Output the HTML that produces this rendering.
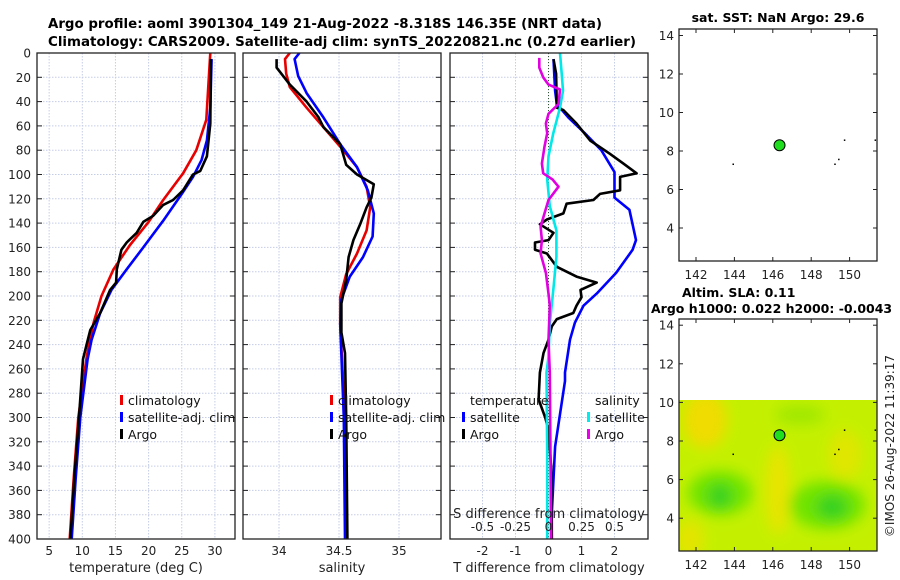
<!DOCTYPE html>
<html><head><meta charset="utf-8"><style>
html,body{margin:0;padding:0;background:#fff;width:900px;height:580px;overflow:hidden}
svg{display:block;font-family:"DejaVu Sans","Liberation Sans",sans-serif}
</style></head><body>
<svg id="chart" width="900" height="580" viewBox="0 0 900 580" xmlns="http://www.w3.org/2000/svg">
<defs>
<clipPath id="c1"><rect x="37" y="53" width="198" height="486"/></clipPath>
<clipPath id="c2"><rect x="243" y="53" width="198" height="486"/></clipPath>
<clipPath id="c3"><rect x="450" y="53" width="198" height="486"/></clipPath>
<clipPath id="cm2"><rect x="679" y="400" width="198" height="151"/></clipPath>
<filter id="blur" x="-50%" y="-50%" width="200%" height="200%"><feGaussianBlur stdDeviation="7"/></filter>
</defs>
<text x="48" y="28" font-size="13" font-weight="bold" textLength="554" lengthAdjust="spacingAndGlyphs">Argo profile: aoml 3901304_149 21-Aug-2022 -8.318S 146.35E (NRT data)</text>
<text x="48" y="46" font-size="13" font-weight="bold" textLength="588" lengthAdjust="spacingAndGlyphs">Climatology: CARS2009. Satellite-adj clim: synTS_20220821.nc (0.27d earlier)</text>
<g id="grids"></g>
<g id="series"></g>
<g id="frames"></g>
<g id="labels" font-size="12" fill="#222"></g>
<g id="legends" font-size="12.5" fill="#111">
<rect x="120" y="395" width="3" height="10" fill="#e00"/>
<text x="128" y="405">climatology</text>
<rect x="120" y="412" width="3" height="10" fill="#00f"/>
<text x="128" y="422">satellite-adj. clim</text>
<rect x="120" y="429" width="3" height="10" fill="#000"/>
<text x="128" y="439">Argo</text>
<rect x="330" y="395" width="3" height="10" fill="#e00"/>
<text x="338" y="405">climatology</text>
<rect x="330" y="412" width="3" height="10" fill="#00f"/>
<text x="338" y="422">satellite-adj. clim</text>
<rect x="330" y="429" width="3" height="10" fill="#000"/>
<text x="338" y="439">Argo</text>
<text x="470" y="405">temperature</text>
<rect x="462" y="412" width="3" height="10" fill="#00f"/>
<text x="470" y="422">satellite</text>
<rect x="462" y="429" width="3" height="10" fill="#000"/>
<text x="470" y="439">Argo</text>
<text x="595" y="405">salinity</text>
<rect x="587" y="412" width="3" height="10" fill="#0ee"/>
<text x="595" y="422">satellite</text>
<rect x="587" y="429" width="3" height="10" fill="#e0e"/>
<text x="595" y="439">Argo</text>
</g>
<!-- maps -->
<g id="map1">
<rect x="679" y="29" width="198" height="232" fill="#fff"/>
</g>
<g id="map2">
<g clip-path="url(#cm2)">
<rect x="679" y="400" width="198" height="151" fill="#c4f000"/>
<g filter="url(#blur)">
<ellipse cx="705" cy="420" rx="22" ry="28" fill="#f0dc00"/>
<ellipse cx="778" cy="490" rx="12" ry="45" fill="#e8e400"/>
<ellipse cx="845" cy="455" rx="16" ry="25" fill="#e0e600"/>
<ellipse cx="690" cy="540" rx="14" ry="20" fill="#e4e400"/>
<ellipse cx="800" cy="415" rx="25" ry="10" fill="#a0e800"/>
<ellipse cx="720" cy="493" rx="32" ry="22" fill="#70e400"/>
<ellipse cx="827" cy="505" rx="38" ry="24" fill="#70e400"/>
<ellipse cx="720" cy="496" rx="12" ry="12" fill="#30d020"/>
<ellipse cx="832" cy="507" rx="16" ry="12" fill="#30d020"/>
</g>
</g>
</g>
<g id="maplabels" font-size="12" fill="#222"></g>
<text x="778" y="22" font-size="12.5" font-weight="bold" text-anchor="middle">sat. SST: NaN Argo: 29.6</text>
<text x="682" y="297" font-size="12.5" font-weight="bold">Altim. SLA: 0.11</text>
<text x="651" y="313" font-size="12.5" font-weight="bold">Argo h1000: 0.022 h2000: -0.0043</text>
<text x="0" y="0" font-size="12" fill="#222" text-anchor="middle" transform="translate(894,446) rotate(-90)">©IMOS 26-Aug-2022 11:39:17</text>
</svg>
<script>
// ---- data ----
const depthTicks = [0,20,40,60,80,100,120,140,160,180,200,220,240,260,280,300,320,340,360,380,400];
const tempTicks = [5,10,15,20,25,30];
const salTicks = [34,34.5,35];
const salTickLabels = ["34","34.5","35"];
const tdiffTicks = [-2,-1,0,1,2];
const sdiffTicks = [-0.5,-0.25,0,0.25,0.5];
const sdiffTickLabels = ["-0.5","-0.25","0","0.25","0.5"];
const lonTicks = [142,144,146,148,150];
const latTicks = [4,6,8,10,12,14];

const climTDepth = [0,55,80,99,121,139,158,178,200,222,249,300,350,400];
const climT = [29.3,28.7,27.2,25.2,22.2,20.0,17.2,14.7,12.9,11.7,10.7,9.4,8.7,8.1];
const satTDepth = [5,45,72,88,102,116,138,160,178,195,214,236,252,300,350,400];
const satT = [29.5,29.3,28.8,28.0,26.7,25.0,22.2,19.2,16.7,14.4,12.7,11.4,10.8,9.7,9.0,8.4];
const argoTDepth = [5,58,85,97,100,113,121,125,134,139,148,156,162,178,189,195,214,228,239,252,300,350,400];
const argoT = [29.4,29.3,28.8,27.8,26.7,25.2,23.7,22.2,20.7,19.2,18.2,16.7,15.9,15.2,15.1,14.2,12.7,11.2,10.7,10.1,9.5,8.8,8.2];

const climSDepth = [0,5,17,28,45,61,77,94,110,127,146,165,182,201,223,300,400];
const climS = [34.09,34.05,34.06,34.09,34.23,34.37,34.51,34.65,34.73,34.76,34.73,34.65,34.56,34.51,34.51,34.55,34.56];
const satSDepth = [0,5,19,33,53,75,94,113,132,151,168,184,203,223,300,400];
const satS = [34.17,34.13,34.16,34.23,34.37,34.51,34.65,34.74,34.79,34.78,34.70,34.59,34.52,34.51,34.54,34.55];
const argoSDepth = [5,12,26,40,53,61,75,92,100,108,119,127,140,154,168,187,206,230,247,300,400];
const argoS = [33.98,33.98,34.09,34.23,34.33,34.37,34.51,34.56,34.65,34.79,34.77,34.73,34.68,34.62,34.58,34.56,34.52,34.52,34.55,34.56,34.57];

const argoTdDepth = [5,17,45,47,58,72,83,91,99,102,113,116,121,124,132,137,141,148,154,156,162,165,176,184,189,195,201,208,214,219,225,236,247,263,285,300,310,340,400];
const argoTd = [0.15,0.23,0.25,0.45,0.85,1.26,1.86,2.27,2.67,2.17,2.17,1.56,1.36,0.55,0.45,-0.05,-0.26,0.15,0.0,-0.41,-0.41,-0.05,0.25,0.85,1.46,0.97,1.0,0.85,0.75,0.25,0.1,0.0,-0.15,-0.26,-0.3,-0.1,0.0,0.08,0.1];
const satTdDepth = [5,31,42,53,66,80,98,119,129,154,162,181,198,208,222,236,263,270,324,379,400];
const satTd = [0.15,0.2,0.25,0.6,1.1,1.6,2.0,2.0,2.45,2.65,2.55,2.05,1.46,1.06,0.8,0.65,0.5,0.5,0.2,0.1,0.1];
const satSdDepth = [0,17,31,45,66,85,104,126,146,168,195,223,250,263,330,400];
const satSd = [0.087,0.1,0.11,0.087,0.036,0.0,-0.01,0.01,0.06,0.06,0.036,0.01,0.0,-0.015,-0.01,-0.01];
const argoSdDepth = [4,12,20,26,30,42,50,58,66,77,91,99,104,110,121,132,143,154,165,181,198,208,236,263,330,400];
const argoSd = [-0.07,-0.07,-0.04,0.0,0.087,0.076,0.0,-0.02,-0.01,-0.03,-0.05,-0.04,0.03,0.076,0.0,-0.03,-0.06,-0.05,-0.06,-0.02,0.0,0.01,0.0,0.01,0.015,0.02];

const argoLon = [146.35];
const argoLat = [8.3];

// ---- scales ----
const NS = "http://www.w3.org/2000/svg";
const yD = d => 53 + d * 1.215;
const xT = v => 16 + v * 6.63;
const xS = v => 279 + (v - 34) * 120;
const xTd = v => 548.5 + v * 33;
const xSd = v => 548.5 + v * 132;
const mLon = v => 696 + (v - 142) * 19.2;
const m1Lat = v => 151 - (v - 8) * 19.25;
const m2Lat = v => 441 - (v - 8) * 19.3;

function el(tag, attrs, parent) {
  const e = document.createElementNS(NS, tag);
  for (const k in attrs) e.setAttribute(k, attrs[k]);
  parent.appendChild(e);
  return e;
}
const grids = document.getElementById('grids');
const series = document.getElementById('series');
const frames = document.getElementById('frames');
const labels = document.getElementById('labels');
const maplabels = document.getElementById('maplabels');

const panels = [
  {x0:37, ticks:tempTicks, tl:tempTicks.map(String), f:xT, title:"temperature (deg C)", name:"temperature"},
  {x0:243, ticks:salTicks, tl:salTickLabels, f:xS, title:"salinity", name:"salinity"},
  {x0:450, ticks:tdiffTicks, tl:tdiffTicks.map(String), f:xTd, title:"T difference from climatology", name:"difference"}
];
panels.forEach((p, i) => {
  depthTicks.forEach(d => {
    const g = el('line', {x1:p.x0, x2:p.x0+198, y1:yD(d), y2:yD(d), stroke:'#c5cde6', 'stroke-width':1, 'stroke-dasharray':'1.5,1.5'}, grids);
    
    
    const t1 = el('line', {x1:p.x0, x2:p.x0+5, y1:yD(d), y2:yD(d), stroke:'#222'}, frames);
    
    
    const t2 = el('line', {x1:p.x0+193, x2:p.x0+198, y1:yD(d), y2:yD(d), stroke:'#222'}, frames);
    
    
    if (i === 0) {
      const tx = el('text', {x:31, y:yD(d)+4.5, 'text-anchor':'end'}, labels);
      tx.textContent = d;
      
      
    }
  });
  p.ticks.forEach((v, j) => {
    const g = el('line', {x1:p.f(v), x2:p.f(v), y1:53, y2:539, stroke:'#c5cde6', 'stroke-width':1, 'stroke-dasharray':'1.5,1.5'}, grids);
    
    
    const tx = el('text', {x:p.f(v), y:555, 'text-anchor':'middle'}, labels);
    tx.textContent = p.tl[j];
    
    
  });
  const fr = el('rect', {x:p.x0, y:53, width:198, height:486, fill:'none', stroke:'#222', 'stroke-width':1.3}, frames);
  
  
  const at = el('text', {x:p.x0+99, y:572, 'text-anchor':'middle', 'font-size':13}, labels);
  at.textContent = p.title;
  
  
});

// zero line in diff panel
const zl = el('line', {x1:xTd(0), x2:xTd(0), y1:53, y2:539, stroke:'#335533', 'stroke-dasharray':'1,2'}, grids);



// S diff axis labels (inside panel)
sdiffTicks.forEach((v, j) => {
  const tx = el('text', {x:xSd(v), y:531, 'text-anchor':'middle'}, labels);
  tx.textContent = sdiffTickLabels[j];
  
  
});
const st = el('text', {x:549, y:518, 'text-anchor':'middle', 'font-size':13}, labels);
st.textContent = 'S difference from climatology';



function line(depths, vals, xf, color, clip, name) {
  const pts = vals.map((v, i) => xf(v).toFixed(1) + ',' + yD(depths[i]).toFixed(1)).join(' ');
  const p = el('polyline', {points:pts, fill:'none', stroke:color, 'stroke-width':2.6, 'stroke-linejoin':'round', 'clip-path':'url(#' + clip + ')'}, series);
  
  
}
line(climTDepth, climT, xT, '#e80000', 'c1', 'climatology-temperature-line');
line(satTDepth, satT, xT, '#0000ff', 'c1', 'satellite-temperature-line');
line(argoTDepth, argoT, xT, '#000', 'c1', 'argo-temperature-line');
line(climSDepth, climS, xS, '#e80000', 'c2', 'climatology-salinity-line');
line(satSDepth, satS, xS, '#0000ff', 'c2', 'satellite-salinity-line');
line(argoSDepth, argoS, xS, '#000', 'c2', 'argo-salinity-line');
line(satTdDepth, satTd, xTd, '#0000ff', 'c3', 'satellite-t-diff-line');
line(argoTdDepth, argoTd, xTd, '#000', 'c3', 'argo-t-diff-line');
line(satSdDepth, satSd, xSd, '#00e8e8', 'c3', 'satellite-s-diff-line');
line(argoSdDepth, argoSd, xSd, '#e000e0', 'c3', 'argo-s-diff-line');

// maps
[[29, m1Lat, 279, 'sst'], [319, m2Lat, 569, 'sla']].forEach(([top, latf, lby, nm]) => {
  const fr = el('rect', {x:679, y:top, width:198, height:232, fill:'none', stroke:'#222', 'stroke-width':1.3}, maplabels);
  
  
  lonTicks.forEach(v => {
    const t = el('text', {x:mLon(v), y:lby, 'text-anchor':'middle'}, maplabels);
    t.textContent = v;
    
    
    const a = el('line', {x1:mLon(v), x2:mLon(v), y1:top, y2:top+4, stroke:'#222'}, maplabels);
    
    
    const b = el('line', {x1:mLon(v), x2:mLon(v), y1:top+228, y2:top+232, stroke:'#222'}, maplabels);
    
    
  });
  latTicks.forEach(v => {
    const t = el('text', {x:674, y:latf(v)+4.5, 'text-anchor':'end'}, maplabels);
    t.textContent = v;
    
    
    const a = el('line', {x1:679, x2:683, y1:latf(v), y2:latf(v), stroke:'#222'}, maplabels);
    
    
    const b = el('line', {x1:873, x2:877, y1:latf(v), y2:latf(v), stroke:'#222'}, maplabels);
    
    
  });
  [[143.9,7.35],[149.2,7.35],[149.4,7.6],[149.7,8.6],[151.3,8.6]].forEach(([lo, la]) => {
    const d = el('rect', {x:mLon(lo), y:latf(la), width:1.5, height:1.5, fill:'#000'}, maplabels);
    
    
  });
  argoLon.forEach((lo, i) => {
    const c = el('circle', {cx:mLon(lo), cy:latf(argoLat[i]), r:5.5, fill:'#1ede1e', stroke:'#000', 'stroke-width':1}, maplabels);
    
    
  });
});
</script>
</body></html>
